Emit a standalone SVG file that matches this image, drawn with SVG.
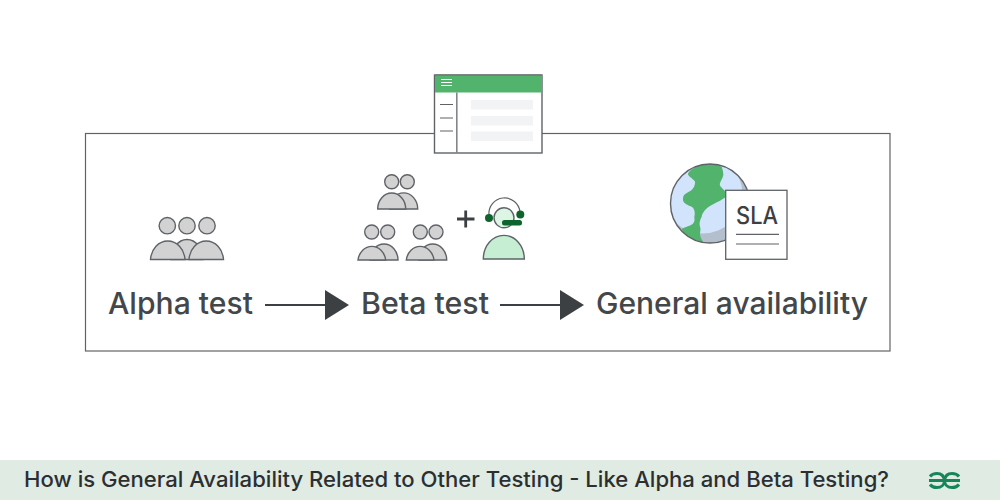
<svg xmlns="http://www.w3.org/2000/svg" width="1000" height="500" viewBox="0 0 1000 500">
<style>
.lbl{font-family:"Inter","Roboto","Liberation Sans",sans-serif;font-size:30px;font-weight:500;fill:#44474a}
.ppl{fill:#d2d2d2;stroke:#5f6368;stroke-width:1.4}
.agt{fill:#c5eed3;stroke:#5f6368;stroke-width:1.4}
.line{stroke:#5f6368;stroke-width:1.2;fill:none}
.dk{stroke:#3c4043;stroke-width:2;fill:none}
.bar{fill:#f1f3f4}
.hd{fill:#0d652d}
</style>
<defs>
<clipPath id="gc"><circle cx="710" cy="203.5" r="39.5"/></clipPath>
<marker id="ah" markerUnits="userSpaceOnUse" markerWidth="24" markerHeight="30" refX="0" refY="15" orient="auto"><path d="M0 0L24 15L0 30Z" fill="#3c4043"/></marker>
</defs>
<rect width="1000" height="500" fill="#fff"/>
<g id="frame"><rect x="85.5" y="133.5" width="804.5" height="217.5" fill="#fff" stroke="#5f6368" stroke-width="1.2"/></g>
<g id="window">
<rect x="434.5" y="75" width="107.5" height="78" fill="#fff" stroke="#5f6368" stroke-width="1.4"/>
<rect x="435" y="75.5" width="106.5" height="17" fill="#52b36d"/>
<path d="M435 75.2H541.5" stroke="#6b7a6f" stroke-width="1.2"/>
<path d="M441 79.500h11M441 82.500h11M441 85.500h11" stroke="#fff" stroke-width="1"/>
<path d="M456.800 92.500V153" stroke="#80868b" stroke-width="1.6"/>
<path d="M440 104.500h13M440 118h13M440 131h13" class="line"/>
<rect class="bar" x="471" y="100" width="62" height="9.500"/>
<rect class="bar" x="471" y="116" width="62" height="9.500"/>
<rect class="bar" x="471" y="131.500" width="62" height="9.500"/>
</g>
<g id="alpha-group">
<circle class="ppl" cx="167.300" cy="225.700" r="8.200"/><circle class="ppl" cx="187" cy="225.700" r="8.200"/><circle class="ppl" cx="207" cy="225.700" r="8.200"/>
<path class="ppl" d="M171 259.500A16 20 0 0 1 203 259.500Z"/>
<path class="ppl" d="M150.500 259.500A17.300 20 0 0 1 185 259.500Z"/>
<path class="ppl" d="M189 259.500A17.300 20 0 0 1 223.500 259.500Z"/>
</g>
<g id="beta-top">
<circle class="ppl" cx="391.700" cy="181.700" r="7"/><circle class="ppl" cx="407.300" cy="181.700" r="7"/>
<path class="ppl" d="M389.500 209A14 16 0 0 1 417.700 209Z"/>
<path class="ppl" d="M377.700 209A14 16 0 0 1 405.700 209Z"/>
</g>
<g id="beta-left">
<circle class="ppl" cx="371.700" cy="232" r="7"/><circle class="ppl" cx="387.700" cy="232" r="7"/>
<path class="ppl" d="M370 260A14 16 0 0 1 398 260Z"/>
<path class="ppl" d="M358 260A14 16 0 0 1 385.700 260Z"/>
</g>
<g id="beta-right">
<circle class="ppl" cx="420.300" cy="232" r="7"/><circle class="ppl" cx="436" cy="232" r="7"/>
<path class="ppl" d="M418.700 260A14 16 0 0 1 446.700 260Z"/>
<path class="ppl" d="M406.300 260A14 16 0 0 1 434 260Z"/>
</g>
<g id="plus"><path d="M457 219H474.500M465.700 210.500V227.500" stroke="#3c4043" stroke-width="2.800" fill="none"/></g>
<g id="agent">
<path class="agt" d="M483.300 259A20.500 23.700 0 0 1 524.300 259Z"/>
<circle cx="504" cy="217.800" r="10" fill="#dcf5e4" stroke="#5f6368" stroke-width="1.400"/>
<path class="line" d="M489 215A15.500 15.500 0 0 1 520 212" stroke-width="1.400"/>
<circle class="hd" cx="489" cy="218" r="4"/><circle class="hd" cx="520.300" cy="214.500" r="4"/>
<rect class="hd" x="502" y="220" width="20" height="5.500" rx="2.500"/>
</g>
<g id="globe">
<circle cx="710" cy="203.500" r="39.500" fill="#b3bfcd"/>
<g clip-path="url(#gc)">
<circle cx="703" cy="194" r="39.500" fill="#d2e3fc"/>
<path fill="#52b36d" d="M693.300 168.300C690 171 687 173 688.300 175C690 178 696 180 695 183.300C694.500 187 693 188.500 691.700 190C688 192.500 684 194 683.300 196.700C682.500 200 683 202 685 203.300C688 206 692 206 693.300 208.300C695 211 695 214 694.300 216.700C694.500 219 695 221 693.300 223.300C691 226 685 227 681.700 229L690 246L705 246C703 241 700 238 700 234.300C700 231 701 229 700 226.700C699 223 700 220 701.700 216.700C702 213 706 208 711.700 205C717 202 724 199 725.700 196.700L725.700 191.700C722 188 719 186 720 183.300C721 180 723 178 723.300 175C723.500 171 722 168 721.700 166.700L705 160Z"/>
</g>
<circle cx="710" cy="203.500" r="39.500" fill="none" stroke="#5f6368" stroke-width="1.400"/>
</g>
<g id="sla">
<rect x="725.700" y="190.300" width="61.300" height="69" fill="#fff" stroke="#5f6368" stroke-width="1.300"/>
<text x="757" y="223.500" text-anchor="middle" font-family="Inter,Roboto,'Liberation Sans',sans-serif" font-size="24" font-weight="500" fill="#3c4043" textLength="42" lengthAdjust="spacingAndGlyphs">SLA</text>
<path class="line" d="M736 234.300H779M736 244H779"/>
</g>
<g id="connectors">
<path class="dk" d="M265 305H325" marker-end="url(#ah)"/>
<path class="dk" d="M500 305H560" marker-end="url(#ah)"/>
</g>
<g id="labels">
<text class="lbl" x="108" y="313.500" textLength="145" lengthAdjust="spacingAndGlyphs">Alpha test</text>
<text class="lbl" x="361" y="313.500" textLength="128" lengthAdjust="spacingAndGlyphs">Beta test</text>
<text class="lbl" x="596" y="313.500" textLength="272" lengthAdjust="spacingAndGlyphs">General availability</text>
</g>
<g id="banner">
<rect y="460" width="1000" height="40" fill="#e0ebe3"/>
<text x="24" y="487" font-family="Inter,Roboto,'Liberation Sans',sans-serif" font-size="21" font-weight="500" fill="#2c2f31" textLength="865" lengthAdjust="spacingAndGlyphs">How is General Availability Related to Other Testing - Like Alpha and Beta Testing?</text>
<path d="M929 480.500H944.500C944 476 941 473.500 937 473.500C934 473.500 931.500 474.500 930 476.500M930 484.500C931.500 486.500 934 487.500 937 487.500C941 487.500 944.500 485 944.500 480.500M960 480.500H944.500C945 476 948 473.500 952 473.500C955 473.500 957.500 474.500 959 476.500M959 484.500C957.500 486.500 955 487.500 952 487.500C948 487.500 944.500 485 944.500 480.500" fill="none" stroke="#17855a" stroke-width="3"/>
</g>
</svg>
